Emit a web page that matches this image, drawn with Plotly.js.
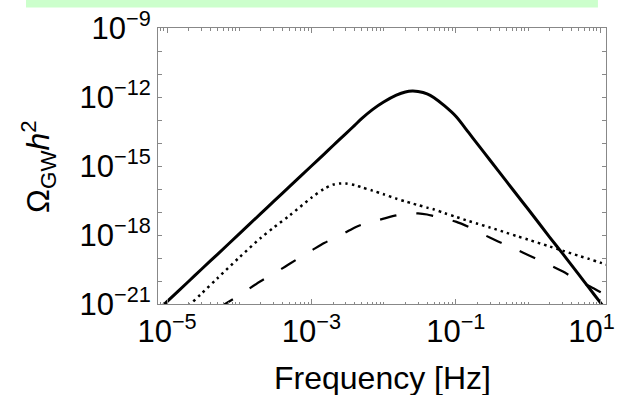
<!DOCTYPE html>
<html>
<head>
<meta charset="utf-8">
<script src="https://cdn.plot.ly/plotly-3.0.1.min.js"></script>
<style>html,body{margin:0;padding:0;background:#fff;}#chart{width:621px;height:395px;}</style>
</head>
<body>
<div id="chart"></div>
<script>
// Frequency grid [Hz]
var frequency = [7e-6, 1e-5, 2e-5, 3e-5, 5e-5, 1e-4, 2e-4, 3e-4, 5e-4, 1e-3,
  1.5e-3, 2e-3, 2.5e-3, 3e-3, 4e-3, 5e-3, 7e-3, 1e-2,
  1.5e-2, 2e-2, 2.5e-2, 3e-2, 4e-2, 5e-2, 7e-2, 0.1,
  0.15, 0.2, 0.3, 0.5, 0.7, 1,
  2, 3, 5, 7, 10, 13];

// Solid curve
var omegaSolid = [4.37e-22, 1.26e-21, 9.77e-21, 3.24e-20, 1.45e-19, 1.12e-18, 8.71e-18, 2.88e-17, 1.29e-16, 1.00e-15,
  3.31e-15, 7.76e-15, 1.51e-14, 2.57e-14, 6.03e-14, 1.17e-13, 2.82e-13, 6.03e-13,
  1.20e-12, 1.66e-12, 1.82e-12, 1.74e-12, 1.38e-12, 9.33e-13, 4.07e-13, 1.45e-13,
  2.88e-14, 8.91e-15, 1.74e-15, 2.19e-16, 5.62e-17, 1.35e-17,
  7.94e-19, 1.58e-19, 2.00e-20, 5.01e-21, 1.17e-21, 3.98e-22];

// Dotted curve
var omegaDotted = [3.55e-23, 1.05e-22, 8.32e-22, 2.82e-21, 1.32e-20, 1.05e-19, 7.59e-19, 2.09e-18, 7.08e-18, 4.17e-17,
  1.02e-16, 1.55e-16, 1.74e-16, 1.74e-16, 1.48e-16, 1.17e-16, 8.51e-17, 5.89e-17,
  3.80e-17, 2.88e-17, 2.34e-17, 2.00e-17, 1.55e-17, 1.29e-17, 8.91e-18, 6.17e-18,
  4.07e-18, 3.09e-18, 2.09e-18, 1.26e-18, 8.91e-19, 6.31e-19,
  3.16e-19, 2.09e-19, 1.26e-19, 9.12e-20, 6.31e-20, 4.90e-20];

// Dashed curve
var omegaDashed = [1.26e-23, 2.51e-23, 1.02e-22, 2.29e-22, 6.31e-22, 2.40e-21, 1.00e-20, 2.04e-20, 5.62e-20, 2.09e-19,
  4.47e-19, 6.92e-19, 9.77e-19, 1.32e-18, 2.14e-18, 2.82e-18, 3.80e-18, 5.13e-18,
  7.08e-18, 8.13e-18, 8.71e-18, 8.71e-18, 7.76e-18, 6.61e-18, 5.13e-18, 3.80e-18,
  2.24e-18, 1.41e-18, 7.59e-19, 3.63e-19, 2.29e-19, 1.35e-19,
  4.90e-20, 2.63e-20, 1.02e-20, 6.03e-21, 3.31e-21, 2.14e-21];

// Tick labels
var xTickVals = [1e-5, 1e-3, 1e-1, 10];
var xTickText = ['10<sup>\u22125</sup>', '10<sup>\u22123</sup>', '10<sup>\u22121</sup>', '10<sup>1</sup>\u00a0\u00a0'];
var yTickVals = [1e-21, 1e-18, 1e-15, 1e-12, 1e-9];
var yTickText = ['10<sup>\u221221</sup>', '10<sup>\u221218</sup>', '10<sup>\u221215</sup>', '10<sup>\u221212</sup>', '10<sup>\u22129</sup>'];

var FONT = 'Liberation Sans, Arial, Helvetica, sans-serif';

var traces = [
  {x: frequency, y: omegaSolid, mode: 'lines', line: {color: '#000', width: 3, shape: 'spline', smoothing: 0.8}, hoverinfo: 'skip'},
  {x: frequency, y: omegaDotted, mode: 'lines', line: {color: '#000', width: 2.5, dash: '2.5px,4px', shape: 'spline', smoothing: 0.8}, hoverinfo: 'skip'},
  {x: frequency, y: omegaDashed, mode: 'lines', line: {color: '#000', width: 2.2, dash: '17px,20px', shape: 'spline', smoothing: 0.8}, hoverinfo: 'skip'}
];

var axisCommon = {
  type: 'log', showgrid: false, zeroline: false, showline: true, linecolor: '#888', linewidth: 1,
  mirror: 'ticks', ticks: 'inside', ticklen: 5, tickcolor: '#888', tickwidth: 1,
  tickmode: 'array', ticklabeloverflow: 'allow',
  tickfont: {family: FONT, size: 31, color: '#000'}
};

var layout = {
  width: 621, height: 395,
  margin: {l: 158, r: 15, t: 28, b: 91, pad: 0},
  paper_bgcolor: '#fff', plot_bgcolor: '#fff',
  showlegend: false,
  font: {family: FONT, color: '#000'},
  xaxis: Object.assign({}, axisCommon, {
    range: [-5.125, 1.08], tickvals: xTickVals, ticktext: xTickText,
    minor: {ticks: 'inside', ticklen: 2.5, tickcolor: '#888', tickmode: 'linear', dtick: 'D1', showgrid: false}
  }),
  yaxis: Object.assign({}, axisCommon, {
    range: [-21, -9], tickvals: yTickVals, ticktext: yTickText, ticklen: 4,
    minor: {ticks: 'inside', ticklen: 4, tickcolor: '#888', tickmode: 'linear', dtick: 1, showgrid: false}
  }),
  shapes: [
    {type: 'rect', xref: 'paper', yref: 'paper', x0: -0.2946, x1: 0.982, y0: 1.074, y1: 1.11,
     fillcolor: 'rgb(204,255,204)', line: {width: 0}, layer: 'above'}
  ],
  annotations: [
    {text: 'Frequency [Hz]', xref: 'paper', yref: 'paper', x: 0.5, y: -0.268, xanchor: 'center', yanchor: 'middle',
     showarrow: false, font: {family: FONT, size: 32, color: '#000'}},
    {text: '\u03A9<sub>GW</sub><i>h</i><sup>2</sup>', xref: 'paper', yref: 'paper', x: -0.268, y: 0.5,
     xanchor: 'center', yanchor: 'middle', textangle: -90, showarrow: false,
     font: {family: FONT, size: 32, color: '#000'}}
  ]
};

Plotly.newPlot('chart', traces, layout, {displayModeBar: false, staticPlot: true});
</script>
</body>
</html>
